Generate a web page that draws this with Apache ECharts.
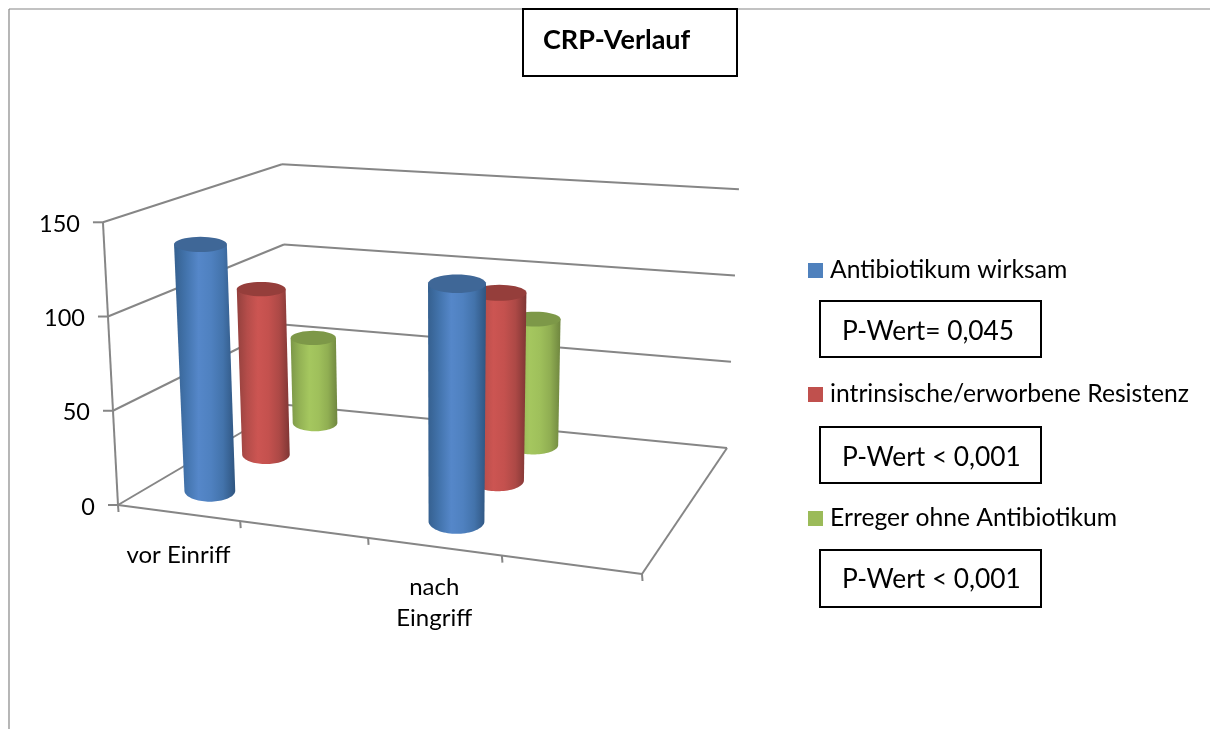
<!DOCTYPE html>
<html>
<head>
<meta charset="utf-8">
<title>CRP-Verlauf</title>
<style>html,body{margin:0;padding:0;background:#fff}#chart{width:1210px;height:729px}</style>
<script src="https://cdn.jsdelivr.net/npm/echarts@6/dist/echarts.min.js"></script>
</head>
<body>
<div id="chart"></div>
<script>
// CRP course before and after the procedure, grouped by pathogen / antibiotic status.
const categories = ['vor Einriff', '', 'nach\nEingriff', ''];
const valueTicks = [0, 50, 100, 150];
const wirksam = [133, null, 124, null];
const resistenz = [94, null, 103, null];
const ohneAntibiotikum = [51, null, 73, null];
const seriesNames = ['Antibiotikum wirksam', 'intrinsische/erworbene Resistenz', 'Erreger ohne Antibiotikum'];
const pValues = ['P-Wert= 0,045', 'P-Wert < 0,001', 'P-Wert < 0,001'];

// Floor corners of the perspective box: front-left, front-right, back-right, back-left.
const FLOOR = [[118, 505], [642, 574], [727, 448], [288, 405]];
// Point far below the box where all verticals converge, and how far the full
// value range rises at each floor corner relative to its distance from that point.
const VANISH = [443, 6611];
const RISE = [0.0463, 0.05, 0.042, 0.0388];
const FRONT_SPACING = 0.05;     // evens out the foreshortening along the front edge
const GRID = { left: 118, top: 222, width: 524, height: 283 };
const BAR_HALF_WIDTH = 0.054;   // share of the floor width
const BAR_HALF_DEPTH = 0.095;   // share of the floor depth
const BAR_DEPTH_OFFSET = 0.015;
const BAR_ACROSS_OFFSET = -0.0055;
const AXIS_COLOR = '#868686';
const FONT = 'Lato, Carlito, "Open Sans", sans-serif';

// Unit square to quadrilateral homography.
function homography(q) {
  const [p0, p1, p2, p3] = q;
  const dx1 = p1[0] - p2[0], dy1 = p1[1] - p2[1];
  const dx2 = p3[0] - p2[0], dy2 = p3[1] - p2[1];
  const sx = p0[0] - p1[0] + p2[0] - p3[0], sy = p0[1] - p1[1] + p2[1] - p3[1];
  const den = dx1 * dy2 - dx2 * dy1;
  const g = (sx * dy2 - dx2 * sy) / den, h = (dx1 * sy - sx * dy1) / den;
  const a = p1[0] - p0[0] + g * p1[0], b = p3[0] - p0[0] + h * p3[0];
  const d = p1[1] - p0[1] + g * p1[1], e = p3[1] - p0[1] + h * p3[1];
  return (u, v) => {
    const w = 1 + g * u + h * v;
    return [(p0[0] + a * u + b * v) / w, (p0[1] + d * u + e * v) / w];
  };
}
const floorAt = homography(FLOOR);

// u: across the categories, d: into the depth, t: share of the value range.
function project(u, d, t) {
  const f = floorAt(u + FRONT_SPACING * u * (1 - u) * (1 - d), d);
  const rise = (RISE[0] * (1 - u) + RISE[1] * u) * (1 - d) + (RISE[3] * (1 - u) + RISE[2] * u) * d;
  return [f[0] + (f[0] - VANISH[0]) * rise * t, f[1] + (f[1] - VANISH[1]) * rise * t];
}

function line(a, b) {
  return {
    type: 'line',
    shape: { x1: a[0], y1: a[1], x2: b[0], y2: b[1] },
    style: { stroke: AXIS_COLOR, lineWidth: 2, fill: null }
  };
}

function renderFrame(params, api) {
  const cs = params.coordSys;
  const children = [];
  const n = categories.length;
  // Value levels on the side and back walls, with ticks and labels on the front edge.
  valueTicks.forEach(v => {
    const t = (cs.y + cs.height - api.coord([0, v])[1]) / cs.height;
    const front = project(0, 0, t);
    children.push(line(front, project(0, 1, t)));
    children.push(line(project(0, 1, t), project(1, 1, t)));
    children.push(line([front[0] - 10, front[1]], front));
    children.push({
      type: 'text',
      style: {
        x: front[0] - 23, y: front[1] + 2, text: String(v), align: 'right', verticalAlign: 'middle',
        fontFamily: FONT, fontSize: 23.5, fill: '#000'
      }
    });
  });
  children.push(line(project(0, 0, 0), project(0, 0, 1)));
  // Floor outline.
  children.push(line(project(0, 0, 0), project(1, 0, 0)));
  children.push(line(project(1, 0, 0), project(1, 1, 0)));
  for (let k = 0; k <= n; k++) {
    const p = project(k / n, 0, 0);
    children.push(line(p, [p[0] + 0.5, p[1] + 7]));
  }
  // Category names under the front edge.
  categories.forEach((name, i) => {
    if (!name) return;
    const u = (api.coord([i, 0])[0] - cs.x) / cs.width;
    const p = project(u, 0, 0);
    children.push({
      type: 'text',
      style: {
        x: p[0], y: p[1] + (i === 0 ? 27 : 25), text: name, align: 'center', verticalAlign: 'top',
        fontFamily: FONT, fontSize: 24, lineHeight: 31, fill: '#000'
      }
    });
  });
  return { type: 'group', children };
}

// Cylinder whose foot and head sit on the projected floor and value level.
function cylinderRenderer(depthIndex, sideStops, topColor) {
  return function (params, api) {
    const v = api.value(1);
    if (v == null || isNaN(v)) return null;
    const cs = params.coordSys;
    const pt = api.coord([api.value(0), v]);
    const u = (pt[0] - cs.x) / cs.width + BAR_ACROSS_OFFSET;
    const t = (cs.y + cs.height - pt[1]) / cs.height;
    const d = (depthIndex + 0.5) / seriesNames.length + BAR_DEPTH_OFFSET;
    const disc = tt => {
      const c = project(u, d, tt);
      const l = project(u - BAR_HALF_WIDTH, d, tt), r = project(u + BAR_HALF_WIDTH, d, tt);
      const nr = project(u, d - BAR_HALF_DEPTH, tt), fr = project(u, d + BAR_HALF_DEPTH, tt);
      return { c, rx: (r[0] - l[0]) / 2, ry: Math.abs(nr[1] - fr[1]) / 2 };
    };
    const foot = disc(0), head = disc(t);
    const arc = (e, from, to) => {
      const pts = [];
      for (let i = 0; i <= 40; i++) {
        const a = from + (to - from) * i / 40;
        pts.push([e.c[0] + e.rx * Math.cos(a), e.c[1] + e.ry * Math.sin(a)]);
      }
      return pts;
    };
    const body = [[head.c[0] - head.rx, head.c[1]], [head.c[0] + head.rx, head.c[1]]]
      .concat(arc(foot, 0, Math.PI));
    return {
      type: 'group',
      children: [
        {
          type: 'polygon',
          shape: { points: body },
          style: {
            fill: new echarts.graphic.LinearGradient(0, 0, 1, 0,
              sideStops.map((c, i) => ({ offset: i / (sideStops.length - 1), color: c })))
          }
        },
        { type: 'polygon', shape: { points: arc(head, 0, Math.PI * 2) }, style: { fill: topColor } }
      ]
    };
  };
}

const looks = [
  { color: '#4F81BD', top: '#3F6797', side: ['#35608f', '#4374ad', '#5587c9', '#4f81c0', '#4373ab', '#2f5580'], data: wirksam },
  { color: '#C0504D', top: '#953E3B', side: ['#93403d', '#b54d4a', '#cc5552', '#c4514e', '#ad4946', '#7f3634'], data: resistenz },
  { color: '#9BBB59', top: '#7D9848', side: ['#7c9748', '#94b355', '#a5c75f', '#9fc05b', '#90ae52', '#6f863f'], data: ohneAntibiotikum }
];

// Annotation boxes: top, height and text baseline centre.
const boxes = [[301, 56, 332], [427, 56, 458], [550, 57, 579.5]];
const graphics = [
  { type: 'line', shape: { x1: 9, y1: 9, x2: 1210, y2: 9 }, style: { stroke: AXIS_COLOR, lineWidth: 1.2 } },
  { type: 'line', shape: { x1: 9, y1: 9, x2: 9, y2: 729 }, style: { stroke: AXIS_COLOR, lineWidth: 1.2 } },
  { type: 'rect', shape: { x: 523, y: 9, width: 214, height: 67 }, style: { fill: '#fff', stroke: '#000', lineWidth: 2 } }
];
pValues.forEach((text, i) => {
  graphics.push({
    type: 'rect',
    shape: { x: 820, y: boxes[i][0], width: 221, height: boxes[i][1] },
    style: { fill: '#fff', stroke: '#000', lineWidth: 2 }
  });
  graphics.push({
    type: 'text',
    style: {
      x: 842, y: boxes[i][2], text, verticalAlign: 'middle',
      fontFamily: FONT, fontSize: 26.3, fill: '#000'
    }
  });
});

const chart = echarts.init(document.getElementById('chart'), null, { renderer: 'canvas' });
chart.setOption({
  animation: false,
  backgroundColor: '#fff',
  title: {
    text: 'CRP-Verlauf', left: 543, top: 27, padding: 0, z: 10,
    textStyle: { fontFamily: FONT, fontSize: 27, fontWeight: 'bold', color: '#000' }
  },
  legend: {
    orient: 'vertical', left: 808, top: 258, padding: 0, itemGap: 99,
    itemWidth: 15, itemHeight: 15, icon: 'rect',
    data: seriesNames,
    textStyle: { fontFamily: FONT, fontSize: 24.7, color: '#000', padding: [0, 0, 0, 2] },
    selectedMode: false
  },
  grid: GRID,
  xAxis: { type: 'category', data: categories, show: false },
  yAxis: { type: 'value', min: 0, max: 150, interval: 50, show: false },
  graphic: graphics,
  series: [
    {
      type: 'custom', name: 'Achsen', coordinateSystem: 'cartesian2d', z: 1, silent: true,
      clip: false, renderItem: renderFrame, data: [[0, 0]], encode: { x: 0, y: 1 }
    }
  ].concat(looks.map((look, i) => ({
    type: 'custom',
    name: seriesNames[i],
    coordinateSystem: 'cartesian2d',
    z: 5 - i,
    clip: false,
    itemStyle: { color: look.color },
    renderItem: cylinderRenderer(i, look.side, look.top),
    encode: { x: 0, y: 1 },
    data: look.data.map((v, k) => [k, v])
  })))
});
</script>
</body>
</html>
